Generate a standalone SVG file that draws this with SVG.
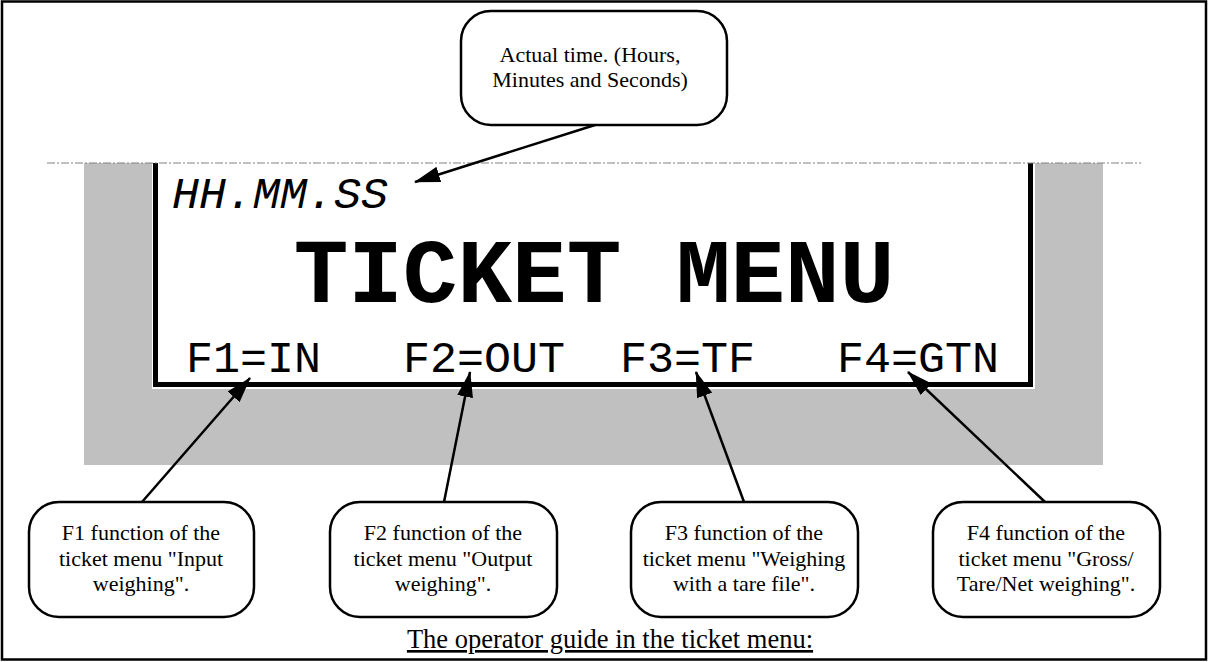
<svg xmlns="http://www.w3.org/2000/svg" width="1208" height="662" viewBox="0 0 1208 662">
<style>
.box{fill:#fff;stroke:#000;stroke-width:2.5}
text.lbl{font-family:'Liberation Serif','Times New Roman',serif;font-size:22px;fill:#000;text-anchor:middle}
.mono{font-family:'Liberation Mono','Courier New',monospace;fill:#000}
.conn{stroke:#000;stroke-width:2.5;fill:none;marker-end:url(#ah)}
</style>
<defs>
<marker id="ah" markerUnits="userSpaceOnUse" markerWidth="26" markerHeight="16" refX="25" refY="8" orient="auto">
<path d="M0,0 L26,8 L0,16 z" fill="#000"/>
</marker>
</defs>
<rect x="0" y="0" width="1208" height="662" fill="#fff"/>
<rect x="2" y="1.5" width="1204" height="658" fill="none" stroke="#000" stroke-width="2.5"/>

<g id="display">
<rect x="84" y="163" width="1019" height="302" fill="#c0c0c0"/>
<rect x="152" y="163" width="883" height="226" fill="#fff"/>
<path d="M155.5,163 V384.5 H1030.5 V163" fill="none" stroke="#000" stroke-width="5"/>
<line x1="47" y1="163" x2="1141" y2="163" stroke="#808080" stroke-width="1" stroke-dasharray="8 2 2 2"/>
<text class="mono" x="172" y="208" font-size="45" font-style="italic">HH.MM.SS</text>
<text class="mono" x="594" y="302" font-size="91" font-weight="bold" text-anchor="middle">TICKET MENU</text>
<text class="mono" x="186" y="372" font-size="45">F1=IN</text>
<text class="mono" x="403" y="372" font-size="45">F2=OUT</text>
<text class="mono" x="620" y="372" font-size="45">F3=TF</text>
<text class="mono" x="837" y="372" font-size="45">F4=GTN</text>
</g>

<g id="connectors">
<line class="conn" x1="595" y1="125" x2="415" y2="182"/>
<line class="conn" x1="142" y1="502" x2="250" y2="378"/>
<line class="conn" x1="444" y1="502" x2="470" y2="372"/>
<line class="conn" x1="744" y1="502" x2="696" y2="372"/>
<line class="conn" x1="1045" y1="502" x2="908" y2="372"/>
</g>

<g id="time-note" font-family="Liberation Serif, Times New Roman, serif">
<rect class="box" x="461" y="11" width="266" height="114" rx="30"/>
<text class="lbl" x="590" y="62">Actual time. (Hours,</text>
<text class="lbl" x="590" y="87">Minutes and Seconds)</text>
</g>

<g id="f1-note" font-family="Liberation Serif, Times New Roman, serif">
<rect class="box" x="29" y="502" width="225" height="115" rx="30"/>
<text class="lbl" x="141" y="540">F1 function of the</text>
<text class="lbl" x="141" y="566">ticket menu "Input</text>
<text class="lbl" x="141" y="591">weighing".</text>
</g>

<g id="f2-note" font-family="Liberation Serif, Times New Roman, serif">
<rect class="box" x="330" y="502" width="227" height="115" rx="30"/>
<text class="lbl" x="443" y="540">F2 function of the</text>
<text class="lbl" x="443" y="566">ticket menu "Output</text>
<text class="lbl" x="443" y="591">weighing".</text>
</g>

<g id="f3-note" font-family="Liberation Serif, Times New Roman, serif">
<rect class="box" x="631" y="502" width="227" height="115" rx="30"/>
<text class="lbl" x="744" y="540">F3 function of the</text>
<text class="lbl" x="744" y="566">ticket menu "Weighing</text>
<text class="lbl" x="744" y="591">with a tare file".</text>
</g>

<g id="f4-note" font-family="Liberation Serif, Times New Roman, serif">
<rect class="box" x="933" y="502" width="227" height="115" rx="30"/>
<text class="lbl" x="1046" y="540">F4 function of the</text>
<text class="lbl" x="1046" y="566">ticket menu "Gross/</text>
<text class="lbl" x="1046" y="591">Tare/Net weighing".</text>
</g>

<g id="caption" font-family="Liberation Serif, Times New Roman, serif">
<text class="lbl" x="610" y="648" style="font-size:26.5px" text-decoration="underline">The operator guide in the ticket menu:</text>
</g>
</svg>
